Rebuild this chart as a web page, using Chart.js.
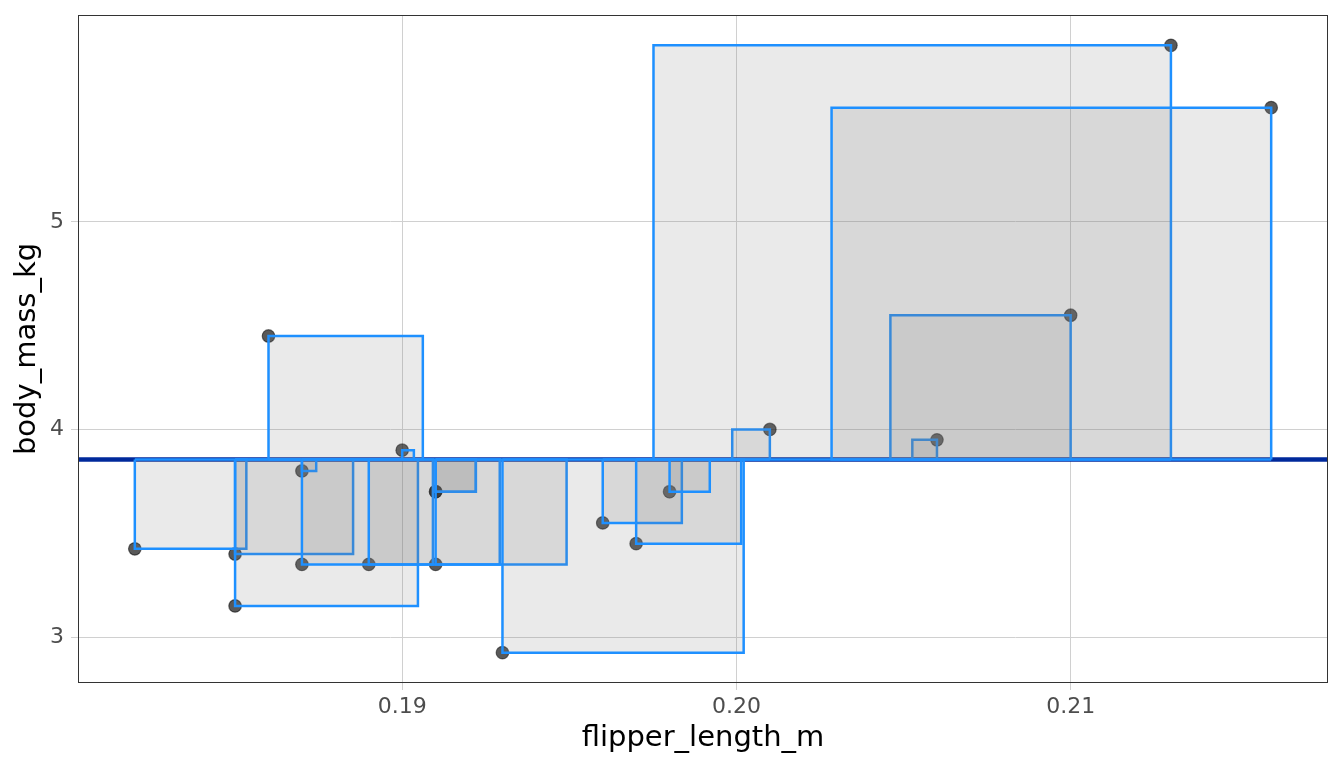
<!DOCTYPE html>
<html>
<head>
<meta charset="utf-8">
<script src="https://cdn.jsdelivr.net/npm/chart.js@4.4.1/dist/chart.umd.min.js"></script>
<style>
  html, body { margin: 0; padding: 0; background: #ffffff; }
  #wrap { width: 1344px; height: 768px; }
</style>
</head>
<body>
<div id="wrap"><canvas id="chart"></canvas></div>
<script>
const flipperLength = [0.182, 0.185, 0.185, 0.186, 0.187, 0.187, 0.189, 0.190, 0.191, 0.191,
                       0.191, 0.193, 0.196, 0.197, 0.198, 0.201, 0.206, 0.210, 0.213, 0.216];
const bodyMass = [3.425, 3.4, 3.15, 4.45, 3.8, 3.35, 3.35, 3.9, 3.7, 3.7,
                  3.35, 2.925, 3.55, 3.45, 3.7, 4.0, 3.95, 4.55, 5.85, 5.55];
const xTicks = [0.19, 0.20, 0.21];
const yTicks = [3, 4, 5];
const squareScale = 0.00776; // metres of width per kg of residual

const n = bodyMass.length;
const meanMass = bodyMass.reduce((a, b) => a + b, 0) / n;
const xLo = Math.min(...flipperLength), xHi = Math.max(...flipperLength);
const yLo = Math.min(...bodyMass), yHi = Math.max(...bodyMass);
const midX = (xLo + xHi) / 2;
// ggplot style 5% expansion
const xMin = xLo - (xHi - xLo) * 0.05, xMax = xHi + (xHi - xLo) * 0.05;
const yMin = yLo - (yHi - yLo) * 0.05, yMax = yHi + (yHi - yLo) * 0.05;

const FONT = "DejaVu Sans";

// one square per point, from the point to the mean line
const squares = flipperLength.map((x, i) => {
  const y = bodyMass[i];
  const side = Math.abs(y - meanMass) * squareScale;
  const x2 = x < midX ? x + side : x - side;
  return {
    type: "scatter",
    showLine: true,
    data: [
      { x: x, y: meanMass },
      { x: x, y: y },
      { x: x2, y: y },
      { x: x2, y: meanMass },
      { x: x, y: meanMass },
    ],
    borderColor: "#1E90FF",
    borderWidth: 2.5,
    borderJoinStyle: "miter",
    backgroundColor: "rgba(127,127,127,0.16)",
    fill: "shape",
    pointRadius: 0,
    tension: 0,
    order: n - i,
  };
});

const panelBorder = {
  id: "panelBorder",
  afterDatasetsDraw(chart) {
    const { ctx, chartArea: a } = chart;
    ctx.save();
    ctx.strokeStyle = "#333333";
    ctx.lineWidth = 1;
    ctx.strokeRect(a.left + 0.5, a.top + 0.5, a.right - a.left - 1, a.bottom - a.top - 1);
    ctx.restore();
  },
};

new Chart(document.getElementById("chart"), {
  type: "scatter",
  data: {
    datasets: [
      ...squares,
      {
        type: "scatter",
        showLine: true,
        data: [{ x: xMin, y: meanMass }, { x: xMax, y: meanMass }],
        borderColor: "#00299B",
        borderWidth: 4.5,
        pointRadius: 0,
        fill: false,
        order: n + 1,
      },
      {
        type: "scatter",
        data: flipperLength.map((x, i) => ({ x: x, y: bodyMass[i] })),
        backgroundColor: "rgba(0,0,0,0.65)",
        borderColor: "rgba(0,0,0,0.5)",
        borderWidth: 1.2,
        pointRadius: 6.3,
        order: n + 2,
      },
    ],
  },
  options: {
    responsive: true,
    maintainAspectRatio: false,
    animation: false,
    layout: { padding: { top: 15, right: 16, left: 0, bottom: 0 } },
    plugins: { legend: { display: false }, tooltip: { enabled: false } },
    scales: {
      x: {
        type: "linear",
        min: xMin,
        max: xMax,
        afterBuildTicks: (s) => { s.ticks = xTicks.map((v) => ({ value: v })); },
        afterFit: (s) => { s.height = 85; s.paddingLeft = 0; s.paddingRight = 0; },
        ticks: {
          callback: (v) => Number(v).toFixed(2),
          color: "#4D4D4D",
          font: { family: FONT, size: 22 },
          padding: 4,
          maxRotation: 0,
          autoSkip: false,
        },
        grid: { color: "#D0D0D0", lineWidth: 1, tickLength: 7 },
        border: { display: false },
        title: {
          display: true,
          text: "flipper_length_m",
          color: "#000000",
          font: { family: FONT, size: 29 },
          padding: { top: 0, bottom: 12 },
        },
      },
      y: {
        type: "linear",
        min: yMin,
        max: yMax,
        afterBuildTicks: (s) => { s.ticks = yTicks.map((v) => ({ value: v })); },
        afterFit: (s) => { s.width = 78; s.paddingTop = 0; s.paddingBottom = 0; },
        ticks: {
          color: "#4D4D4D",
          font: { family: FONT, size: 22 },
          padding: 7,
          autoSkip: false,
        },
        grid: { color: "#D0D0D0", lineWidth: 1, tickLength: 7 },
        border: { display: false },
        title: {
          display: true,
          text: "body_mass_kg",
          color: "#000000",
          font: { family: FONT, size: 29 },
          padding: { top: 10, bottom: 0 },
        },
      },
    },
  },
  plugins: [panelBorder],
});
</script>
</body>
</html>
